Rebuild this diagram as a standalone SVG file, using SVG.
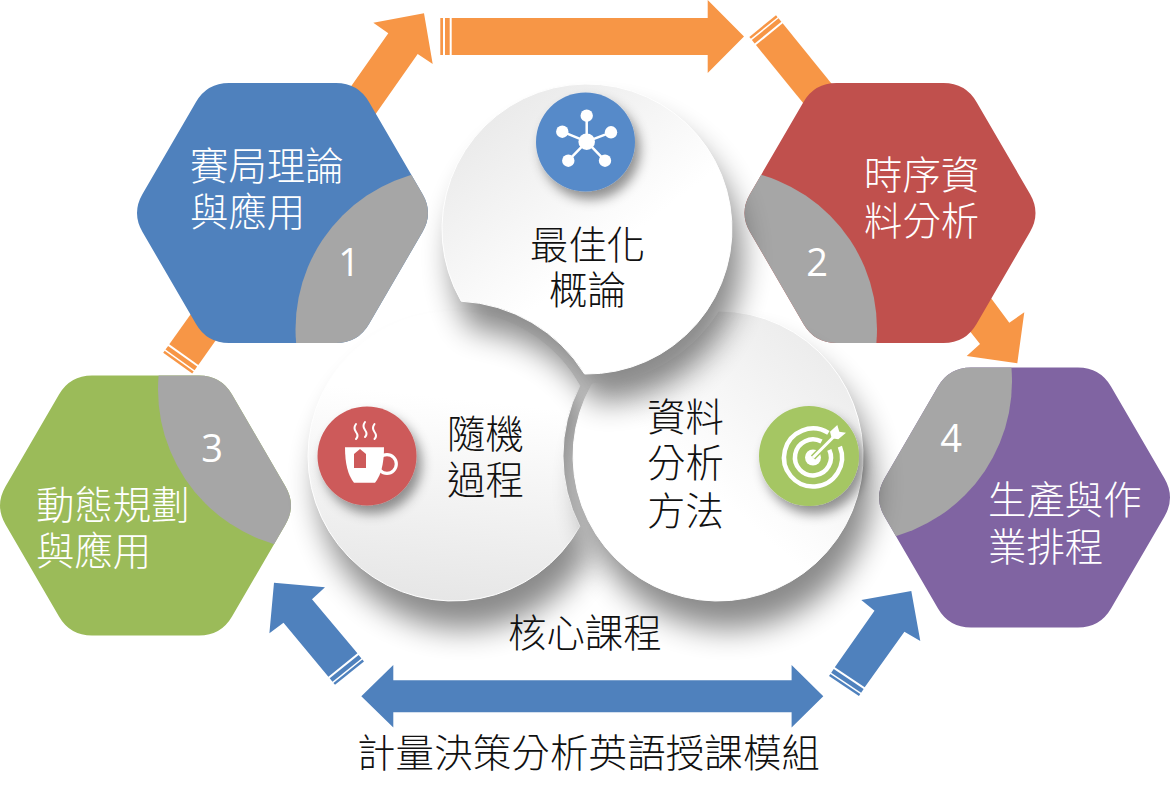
<svg xmlns="http://www.w3.org/2000/svg" xmlns:xlink="http://www.w3.org/1999/xlink" width="1170" height="800" viewBox="0 0 1170 800">
<style>
text{font-family:"Noto Sans CJK TC","Noto Sans",sans-serif;font-size:38.400px;font-weight:300}
.w{fill:#fff}.k{fill:#111}
.n{font-family:"Open Sans","Noto Sans",sans-serif;font-size:38px;font-weight:400;fill:#fff;text-anchor:middle}
.or{fill:#f79646}.bl{fill:#4f81bd}.gr{fill:#a6a6a6}
.d{stroke:#fff;stroke-width:1}
.sh{fill:#000;opacity:.46;filter:url(#bl)}
</style>
<defs>
<path id="hex" d="M53.500-130H-53.500Q-75.500-130-86.500-111L-140-19Q-151 0-140 19L-86.500 111Q-75.500 130-53.500 130H53.500Q75.500 130 86.500 111L140 19Q151 0 140-19L86.500-111Q75.500-130 53.500-130Z"/>
<path id="pl" d="M579.800 526.300A145 145 0 1 1 579.800 385.700A155 155 0 0 0 579.800 526.300Z"/>
<path id="pr" d="M718.600 311A145 145 0 1 1 592.200 384A155 155 0 0 0 718.600 311Z"/>
<path id="pt" d="M461.200 301.200A145 145 0 1 1 584.600 374A155 155 0 0 0 461.200 301.200Z"/>
<clipPath id="c1"><use xlink:href="#hex" transform="translate(282.500 213)"/></clipPath>
<clipPath id="c2"><use xlink:href="#hex" transform="translate(890 213)"/></clipPath>
<clipPath id="c3"><use xlink:href="#hex" transform="translate(145.500 505.500)"/></clipPath>
<clipPath id="c4"><use xlink:href="#hex" transform="translate(1024.500 497.500)"/></clipPath>
<filter id="bl" filterUnits="userSpaceOnUse" x="200" y="0" width="800" height="780"><feGaussianBlur stdDeviation="15"/></filter>
<filter id="is" x="-30%" y="-30%" width="170%" height="170%"><feDropShadow dx="5" dy="8" stdDeviation="6" flood-color="#000" flood-opacity=".42"/></filter>
<linearGradient id="gt" x1=".1" y1="0" x2=".75" y2=".85"><stop offset="0" stop-color="#e6e6e6"/><stop offset=".7" stop-color="#fff"/></linearGradient>
<linearGradient id="gl" x1=".55" y1="0" x2=".45" y2="1"><stop offset=".3" stop-color="#fff"/><stop offset="1" stop-color="#e6e6e6"/></linearGradient>
<linearGradient id="gr" x1=".9" y1="0" x2=".2" y2=".8"><stop offset="0" stop-color="#e8e8e8"/><stop offset=".7" stop-color="#fff"/></linearGradient>
</defs>

<g id="connectors">
<polygon class="or" points="424,13.300 373.300,22.700 388.300,33.300 345,95 370,122 417.700,54 432.700,64"/>
<g class="or">
<polygon points="451.700,18 707.700,18 707.700,0 744,36.500 707.700,73 707.700,55 451.700,55"/>
<rect x="445" y="18" width="4.700" height="37"/><rect x="440.300" y="18" width="2.700" height="37"/>
</g>
<g class="or" transform="translate(769.300 34.200) rotate(230.900)">
<rect x="-78" y="-17.200" width="78" height="34.400"/><rect x="2" y="-17.200" width="4.500" height="34.400"/><rect x="8" y="-17.200" width="2.500" height="34.400"/>
</g>
<polygon class="or" points="1017.300,363.300 966.700,356 980,344 965,325 985,290 1009.300,322.700 1024.300,312.300"/>
<g class="or" transform="translate(183.800 354.600) rotate(125.400)">
<rect x="-40" y="-17.800" width="40" height="35.600"/><rect x="2" y="-17.800" width="4.500" height="35.600"/><rect x="8" y="-17.800" width="2.500" height="35.600"/>
</g>
<polygon class="bl" points="274,582.700 325,587.300 312,599.300 357.400,653.300 328.400,676.700 283.500,622.700 269.400,633.300"/>
<g class="bl" transform="translate(342.900 665) rotate(51.100)">
<rect x="2" y="-18.600" width="4.500" height="37.200"/><rect x="8" y="-18.600" width="2.500" height="37.200"/>
</g>
<polygon class="bl" points="361.300,696.300 393.300,665 393.300,680.300 791.600,680.300 791.600,665 823.300,696.300 791.600,727.500 791.600,712.300 393.300,712.300 393.300,727.500"/>
<polygon class="bl" points="911.300,591 861.300,600 874.500,610.700 834.800,667.300 864.700,687.300 904.400,631.700 920.300,641"/>
<g class="bl" transform="translate(849.800 677.300) rotate(123.800)">
<rect x="2" y="-18" width="4.500" height="36"/><rect x="8" y="-18" width="2.500" height="36"/>
</g>
</g>

<g id="hex1">
<use xlink:href="#hex" x="282.500" y="213" fill="#4f81bd"/>
<circle class="gr" cx="456" cy="329" r="160.500" clip-path="url(#c1)"/>
<text class="w" x="190" y="180">賽局理論</text>
<text class="w" x="190" y="226">與應用</text>
<text class="n" x="349" y="276">1</text>
</g>
<g id="hex2">
<use xlink:href="#hex" x="890" y="213" fill="#c0504d"/>
<circle class="gr" cx="716.500" cy="329" r="160.500" clip-path="url(#c2)"/>
<text class="w" x="864" y="189">時序資</text>
<text class="w" x="864" y="235">料分析</text>
<text class="n" x="817" y="276">2</text>
</g>
<g id="hex3">
<use xlink:href="#hex" x="145.500" y="505.500" fill="#9bbb59"/>
<circle class="gr" cx="319" cy="389.500" r="161" clip-path="url(#c3)"/>
<text class="w" x="36" y="519">動態規劃</text>
<text class="w" x="36" y="565">與應用</text>
<text class="n" x="212" y="462">3</text>
</g>
<g id="hex4">
<use xlink:href="#hex" x="1024.500" y="497.500" fill="#8064a2"/>
<circle class="gr" cx="851" cy="381.500" r="161" clip-path="url(#c4)"/>
<text class="w" x="988" y="514">生產與作</text>
<text class="w" x="988" y="561">業排程</text>
<text class="n" x="951" y="452">4</text>
</g>

<g id="circle-left">
<use xlink:href="#pl" class="sh" transform="translate(10 28)"/>
<use xlink:href="#pl" class="d" fill="url(#gl)"/>
<circle cx="367" cy="456" r="49.500" fill="#cd5a5a" filter="url(#is)"/>
<g fill="none" stroke="#fff" stroke-width="2" stroke-linecap="round">
<path d="M356 424q-3 4 0 8t0 7M365 422q-3 4 0 8t0 7M374.500 424q-3 4 0 8t0 7"/>
</g>
<circle cx="387" cy="464" r="9.300" fill="none" stroke="#fff" stroke-width="3.200"/>
<path fill="#fff" d="M345 447.300H384Q384 472 375 482.700H354Q345 472 345 447.300Z"/>
<polygon fill="#cd5a5a" points="354,454 360,449 366,454 366,468 354,468"/>
<text class="k" x="447" y="448">隨機</text>
<text class="k" x="447" y="494">過程</text>
</g>

<g id="circle-right">
<use xlink:href="#pr" class="sh" transform="translate(10 28)"/>
<use xlink:href="#pr" class="d" fill="url(#gr)"/>
<circle cx="809" cy="456" r="50" fill="#a5c663" filter="url(#is)"/>
<g fill="none" stroke="#fff" stroke-width="4.500">
<path d="M828.400 432.900A29 29 0 1 0 839.900 446.600"/>
<path d="M821.500 441.600A18 18 0 1 0 829.300 449.900"/>
</g>
<circle cx="813" cy="457.500" r="8" fill="#fff"/>
<path d="M813 457.500L834 436.500" stroke="#a5c663" stroke-width="6"/>
<path d="M813 457.500L836 434.500" stroke="#fff" stroke-width="3"/>
<polygon fill="#fff" points="830,431.700 837.300,425 839.300,431.700 846,432.700 838.300,439.300 831.700,438.300"/>
<text class="k" x="647" y="431">資料</text>
<text class="k" x="647" y="477">分析</text>
<text class="k" x="647" y="525">方法</text>
</g>

<g id="circle-top">
<use xlink:href="#pt" class="sh" transform="translate(10 28)"/>
<use xlink:href="#pt" class="d" fill="url(#gt)"/>
<circle cx="585.500" cy="142" r="49.500" fill="#578ac9" filter="url(#is)"/>
<g stroke="#fff" stroke-width="2.500">
<path d="M586.700 141.700L586.700 115.700M586.700 141.700L562.300 131.700M586.700 141.700L611 132.300M586.700 141.700L568.300 160.700M586.700 141.700L605 160.700"/>
</g>
<g fill="#fff">
<circle cx="586.700" cy="141.700" r="8.300"/><circle cx="586.700" cy="115.700" r="6.200"/><circle cx="562.300" cy="131.700" r="6.200"/><circle cx="611" cy="132.300" r="6.200"/><circle cx="568.300" cy="160.700" r="6.200"/><circle cx="605" cy="160.700" r="6.200"/>
</g>
<text class="k" x="530" y="259">最佳化</text>
<text class="k" x="549" y="304">概論</text>
</g>

<g id="labels">
<text class="k" x="508" y="647">核心課程</text>
<text class="k" x="357" y="767" letter-spacing=".2">計量決策分析英語授課模組</text>
</g>
</svg>
